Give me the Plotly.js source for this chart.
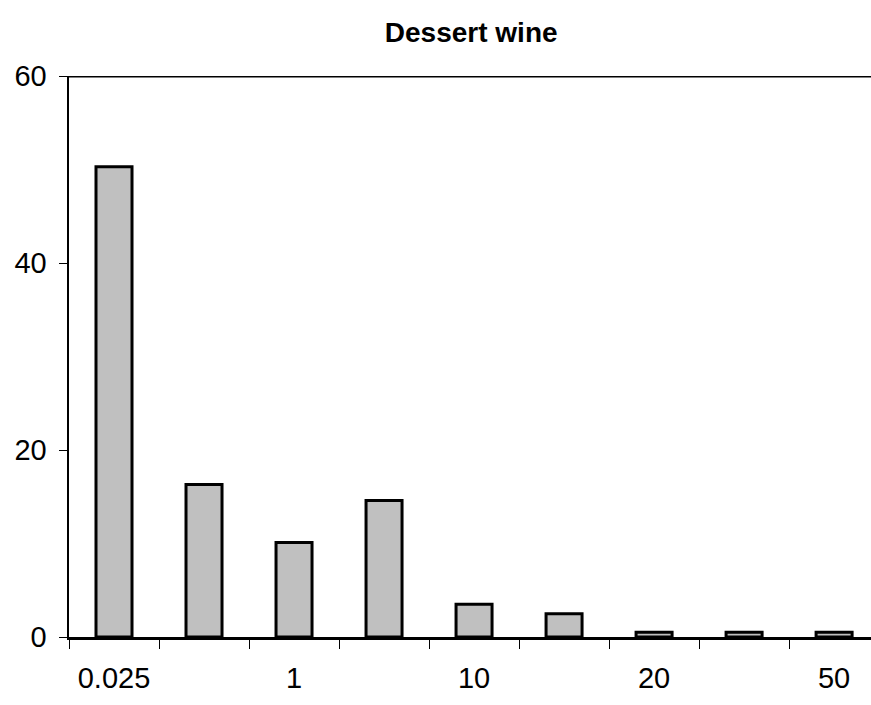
<!DOCTYPE html>
<html>
<head>
<meta charset="utf-8">
<script src="https://cdn.plot.ly/plotly-3.0.1.min.js"></script>
<style>html,body{margin:0;padding:0;background:#fff;}#chart{width:871px;height:705px;}</style>
</head>
<body>
<div id="chart"></div>
<script>
const categories = ["0.025", "0.5", "1", "5", "10", "15", "20", "30", "50"];
const values = [50.3, 16.3, 10.1, 14.6, 3.5, 2.5, 0.5, 0.5, 0.5];
const labelIndex = [0, 2, 4, 6, 8];
const labelText = ["0.025", "1", "10", "20", "50"];
const yTicks = [0, 20, 40, 60];

const xPos = categories.map((c, i) => i);
const boundaries = categories.map((c, i) => i - 0.5);
boundaries.push(categories.length - 0.5);

const font = {family: "Liberation Sans, Arial, sans-serif", size: 29, color: "#000"};

const traces = [{
  type: "bar",
  x: xPos,
  y: values,
  width: 0.4,
  marker: {color: "#c0c0c0", line: {color: "#000", width: 3}},
  hoverinfo: "skip",
  showlegend: false
}, {
  type: "scatter", x: [0], y: [0], xaxis: "x2", yaxis: "y", mode: "markers",
  marker: {opacity: 0}, hoverinfo: "skip", showlegend: false
}];

const layout = {
  width: 871, height: 705,
  margin: {l: 69, r: 0, t: 76, b: 68},
  paper_bgcolor: "#fff", plot_bgcolor: "#fff",
  title: {text: "<b>Dessert wine</b>", font: {family: "Liberation Sans, Arial, sans-serif", size: 28, color: "#000"}, x: 0.541, xanchor: "center", y: 0.955, yanchor: "middle"},
  xaxis: {
    range: [-0.5, 8.41], showgrid: false, zeroline: false,
    showline: true, linecolor: "#000", linewidth: 3,
    tickmode: "array", tickvals: boundaries, ticktext: boundaries.map(() => ""),
    ticks: "outside", ticklen: 9, tickwidth: 1, tickcolor: "#000"
  },
  xaxis2: {
    overlaying: "x", matches: "x", anchor: "y", side: "bottom",
    range: [-0.5, 8.41], showgrid: false, zeroline: false, showline: false,
    tickmode: "array", tickvals: labelIndex, ticktext: labelText,
    ticks: "", tickfont: font, ticklabelstandoff: 21
  },
  yaxis: {
    range: [0, 60], showgrid: false, zeroline: false,
    showline: true, linecolor: "#000", linewidth: 2.5,
    tickmode: "array", tickvals: yTicks, ticktext: yTicks.map(String),
    ticks: "outside", ticklen: 8, tickwidth: 1, tickcolor: "#000",
    tickfont: font, ticklabelstandoff: 6
  },
  shapes: [{type: "line", xref: "paper", yref: "y", x0: 0, x1: 1, y0: 60, y1: 60, line: {color: "#000", width: 3}}]
};

Plotly.newPlot("chart", traces, layout, {displayModeBar: false, staticPlot: true});
</script>
</body>
</html>
